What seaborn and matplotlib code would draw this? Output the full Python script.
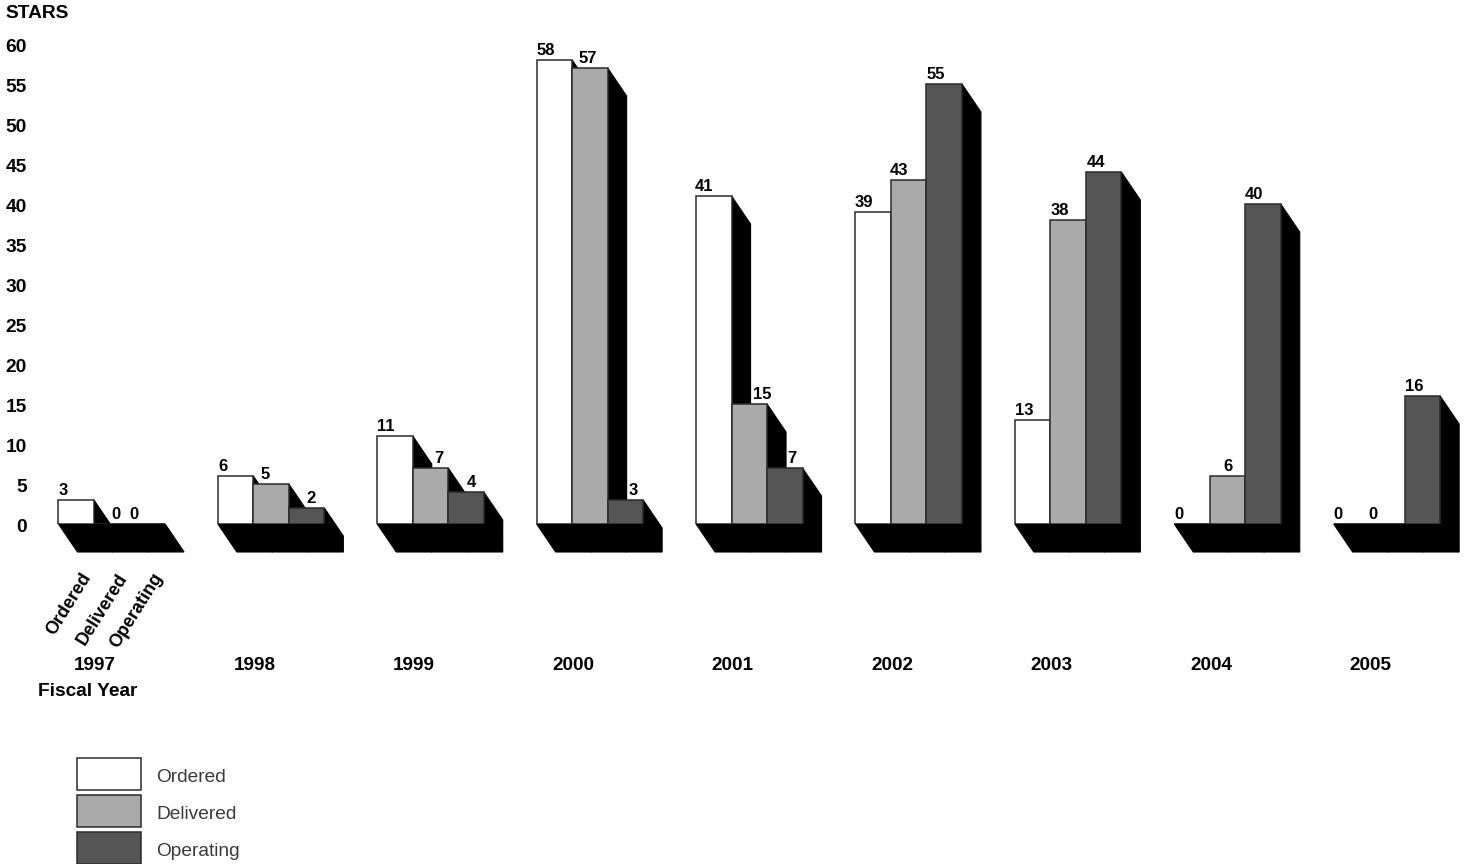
import matplotlib
matplotlib.use("Agg")
import matplotlib.pyplot as plt
from matplotlib.patches import Polygon
from matplotlib.transforms import ScaledTranslation
import pandas as pd
import seaborn as sns

years = ["1997", "1998", "1999", "2000", "2001", "2002", "2003", "2004", "2005"]
ordered = [3, 6, 11, 58, 41, 39, 13, 0, 0]
delivered = [0, 5, 7, 57, 15, 43, 38, 6, 0]
operating = [0, 2, 4, 3, 7, 55, 44, 40, 16]
statuses = ["Ordered", "Delivered", "Operating"]
yticks = list(range(0, 61, 5))

# horizontal nudges of the value labels from the bar centre, in pixels
label_nudge = [
    [-13, -13, -9, -9, -9.5, -9, -8, -13, -13],
    [4.5, -6, 8, -2, 13, -9.5, -8, 1, -14],
    [-13, 4.6, 5, 8, 7.5, -8, -8, -9, -8],
]

W, H = 1468, 864
sns.set_theme(style="white")
plt.rcParams["font.family"] = ["Liberation Sans", "DejaVu Sans"]

df = pd.DataFrame({
    "Year": years * 3,
    "Status": sum([[s] * len(years) for s in statuses], []),
    "Stars": ordered + delivered + operating,
})

fig = plt.figure(figsize=(W / 100, H / 100), dpi=100)
L, R, T, B = 30, 1468, 44, 524
ax = fig.add_axes([L / W, 1 - B / H, (R - L) / W, (B - T) / H])

GROUP_PX = 159.4
EDGE = "#2b2b2b"
sns.barplot(data=df, x="Year", y="Stars", hue="Status", order=years, hue_order=statuses,
            palette=["#ffffff", "#aaaaaa", "#555555"], saturation=1, width=0.668, gap=0,
            errorbar=None, edgecolor=EDGE, linewidth=1.1, zorder=3, ax=ax)

x0 = 111.7
ax.set_xlim((L - x0) / GROUP_PX, (R - x0) / GROUP_PX)
ax.set_ylim(0, 60)

DX, DY = 19 / GROUP_PX, 28 / 8
for s_i, cont in enumerate(ax.containers):
    for g_i, bar in enumerate(cont):
        xl, w, h = bar.get_x(), bar.get_width(), bar.get_height()
        xr = xl + w
        ax.add_patch(Polygon([(xl, 0), (xl + DX, -DY), (xr + DX, -DY), (xr, 0)], closed=True,
                             fc="black", ec="black", lw=0.8, clip_on=False, zorder=1))
        ax.add_patch(Polygon([(xr, h), (xr + DX, h - DY), (xr + DX, -DY), (xr, 0)], closed=True,
                             fc="black", ec="black", lw=0.8, clip_on=False, zorder=1))
        ax.annotate(str(int(h)), (xl + w / 2, h),
                    xytext=(label_nudge[s_i][g_i] * 0.72, 1.3), textcoords="offset points",
                    ha="center", va="bottom", fontsize=12, fontweight="bold",
                    color="black", annotation_clip=False, zorder=4)

for i, name in enumerate(statuses):
    bar = ax.containers[i][0]
    ax.annotate(name, (bar.get_x() + bar.get_width() / 2, 0),
                xytext=(8.5, -36.5), textcoords="offset points", rotation=58,
                rotation_mode="anchor", ha="right", va="center", fontsize=13,
                fontweight="bold", color="black", annotation_clip=False)

sns.despine(ax=ax, left=True, bottom=True)
ax.grid(False)
ax.set_yticks(yticks)
ax.set_yticklabels([str(v) for v in yticks], fontsize=13.8, fontweight="bold", color="black")
ax.set_xticks([i - 16.5 / GROUP_PX for i in range(len(years))])
ax.set_xticklabels(years, fontsize=13.6, fontweight="bold", color="black")
ax.tick_params(axis="y", length=0, pad=2.5)
ax.tick_params(axis="x", length=0, pad=96)
shift = ScaledTranslation(0, -1.5 / 100, fig.dpi_scale_trans)
for lab in ax.get_yticklabels():
    lab.set_transform(lab.get_transform() + shift)

ax.set_xlabel("Fiscal Year", fontsize=13.8, fontweight="bold", color="black", va="center")
ax.xaxis.set_label_coords((87.5 - L) / (R - L), -(691.5 - B) / (B - T))
ax.set_ylabel("STARS", fontsize=13.8, fontweight="bold", color="black", rotation=0, ha="left", va="center")
ax.yaxis.set_label_coords((5.5 - L) / (R - L), (B - 14) / (B - T))

handles, labels = ax.get_legend_handles_labels()
FS = 13.8
em = FS / 0.72
leg = ax.legend(handles, labels, loc="upper left", bbox_to_anchor=(76.5 / W, 1 - 757.5 / H),
                bbox_transform=fig.transFigure, frameon=False, borderpad=0, borderaxespad=0,
                fontsize=FS, labelcolor="#3a3a3a", handlelength=64 / em,
                handleheight=(32 / em - 0.245) / 0.65,
                labelspacing=5 / em, handletextpad=16 / em)
for t in leg.get_texts():
    t.set_y(-3)

fig.savefig("out.png", dpi=100)
